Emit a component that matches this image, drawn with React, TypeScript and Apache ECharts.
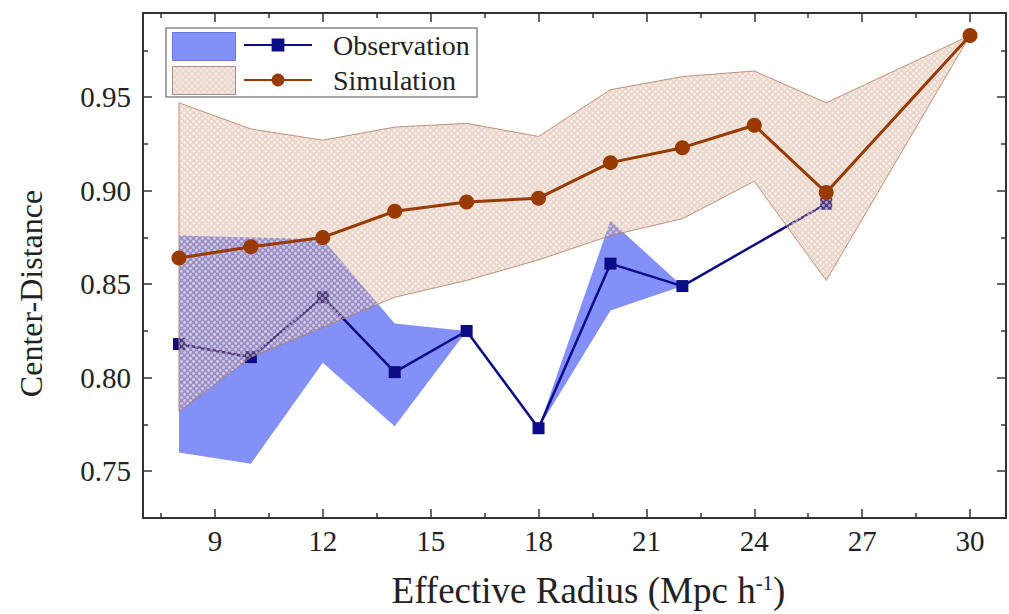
import React, { useEffect, useRef } from "react";
import * as echarts from "echarts";

// ---- data ----
const xObs = [8, 10, 12, 14, 16, 18, 20, 22, 26];
const obsMean = [0.818, 0.811, 0.843, 0.803, 0.825, 0.773, 0.861, 0.849, 0.893];
const obsUpper = [0.876, 0.875, 0.874, 0.829, 0.825, 0.773, 0.884, 0.849, 0.893];
const obsLower = [0.760, 0.754, 0.808, 0.774, 0.825, 0.773, 0.836, 0.849, 0.893];

const xSim = [8, 10, 12, 14, 16, 18, 20, 22, 24, 26, 30];
const simMean = [0.864, 0.870, 0.875, 0.889, 0.894, 0.896, 0.915, 0.923, 0.935, 0.899, 0.983];
const simUpper = [0.947, 0.933, 0.927, 0.934, 0.936, 0.929, 0.954, 0.961, 0.964, 0.947, 0.983];
const simLower = [0.782, 0.811, 0.827, 0.843, 0.852, 0.863, 0.876, 0.885, 0.905, 0.852, 0.983];

const xTickLabels = [9, 12, 15, 18, 21, 24, 27, 30];
const yTickLabels = [0.75, 0.8, 0.85, 0.9, 0.95];

const SERIF = "Liberation Serif";

function makePattern(): HTMLCanvasElement {
  const c = document.createElement("canvas");
  c.width = 6;
  c.height = 6;
  const ctx = c.getContext("2d")!;
  ctx.fillStyle = "rgba(200,140,110,0.36)";
  ctx.fillRect(0, 0, 6, 6);
  ctx.fillStyle = "rgba(255,255,255,0.55)";
  const pts = [
    [1.5, 1.5],
    [4.5, 4.5],
  ];
  for (const [px, py] of pts) {
    ctx.beginPath();
    ctx.arc(px, py, 1.4, 0, Math.PI * 2);
    ctx.fill();
  }
  return c;
}

function bandSeries(name: string, xs: number[], lo: number[], up: number[], style: any, z: number) {
  return {
    name,
    type: "custom",
    z,
    data: xs.map((x, i) => [x, lo[i], up[i]]),
    encode: { x: 0, y: [1, 2] },
    renderItem: (params: any, api: any) => {
      if (params.dataIndexInside !== 0) return null;
      const n = params.dataInsideLength;
      const top: number[][] = [];
      const bot: number[][] = [];
      for (let i = 0; i < n; i++) {
        top.push(api.coord([api.value(0, i), api.value(2, i)]));
        bot.push(api.coord([api.value(0, i), api.value(1, i)]));
      }
      return {
        type: "polygon",
        shape: { points: top.concat(bot.reverse()) },
        style,
      };
    },
  };
}

export default function App() {
  const ref = useRef<HTMLDivElement>(null);
  useEffect(() => {
    if (!ref.current) return;
    const chart = echarts.init(ref.current, null, { renderer: "svg" });
    const pattern = { image: makePattern(), repeat: "repeat" } as any;

    const pair = (xs: number[], ys: number[]) => xs.map((x, i) => [x, ys[i]]);

    const axisLine = { lineStyle: { color: "#333", width: 2 } };
    const xAxisBase = {
      type: "value",
      min: 7,
      max: 31,
      splitNumber: 8,
      splitLine: { show: false },
      axisLine,
      axisTick: { inside: true, length: 9, lineStyle: { color: "#333", width: 1.5 } },
      minorTick: { show: true, splitNumber: 2, length: 5, lineStyle: { color: "#333", width: 1.5 } },
    };
    const yAxisBase = {
      type: "value",
      min: 0.725,
      max: 0.995,
      splitNumber: 5,
      splitLine: { show: false },
      axisLine,
      axisTick: { inside: true, length: 9, lineStyle: { color: "#333", width: 1.5 } },
      minorTick: { show: true, splitNumber: 2, length: 5, lineStyle: { color: "#333", width: 1.5 } },
    };

    const option: any = {
      animation: false,
      backgroundColor: "#fff",
      textStyle: { fontFamily: SERIF },
      grid: { left: 143, right: 2, top: 13, bottom: 93 },
      xAxis: [
        {
          ...xAxisBase,
          position: "bottom",
          name: "Effective Radius (Mpc h{sup|-1})",
          nameLocation: "middle",
          nameGap: 54,
          nameTextStyle: {
            fontFamily: SERIF,
            fontSize: 37,
            color: "#222",
            padding: [0, 0, 0, 28],
            rich: { sup: { fontFamily: SERIF, fontSize: 21, color: "#222", verticalAlign: "top", padding: [0, 0, 14, 0] } },
          },
          axisLabel: {
            fontFamily: SERIF,
            fontSize: 29,
            color: "#222",
            margin: 8,
            formatter: (v: number) => (xTickLabels.includes(Math.round(v)) && Math.abs(v - Math.round(v)) < 1e-6 ? String(Math.round(v)) : ""),
          },
        },
        { ...xAxisBase, position: "top", axisLabel: { show: false } },
      ],
      yAxis: [
        {
          ...yAxisBase,
          position: "left",
          name: "Center-Distance",
          nameLocation: "middle",
          nameGap: 96,
          nameTextStyle: { fontFamily: SERIF, fontSize: 32, color: "#222", padding: [0, 56, 0, 0] },
          axisLabel: {
            fontFamily: SERIF,
            fontSize: 29,
            color: "#222",
            margin: 12,
            formatter: (v: number) => {
              const hit = yTickLabels.find((t) => Math.abs(t - v) < 1e-6);
              return hit !== undefined ? hit.toFixed(2) : "";
            },
          },
        },
        { ...yAxisBase, position: "right", axisLabel: { show: false } },
      ],
      legend: [
        {
          data: [
            { name: "Observation band", icon: "rect", itemStyle: { color: "#8290f8", borderColor: "#6a78dc", borderWidth: 1 } },
            { name: "Simulation band", icon: "rect", itemStyle: { color: pattern, borderColor: "#a88", borderWidth: 1 } },
          ],
          orient: "vertical",
          left: 172,
          top: 32,
          padding: 0,
          itemWidth: 63,
          itemHeight: 28,
          itemGap: 5,
          selectedMode: false,
          formatter: () => "",
          textStyle: { fontSize: 1 },
        },
        {
          data: ["Observation", "Simulation"],
          orient: "vertical",
          left: 243,
          top: 31,
          padding: 0,
          itemWidth: 68,
          itemHeight: 16,
          itemGap: 7,
          selectedMode: false,
          textStyle: { fontFamily: SERIF, fontSize: 28, color: "#222", lineHeight: 28, padding: [0, 0, 0, 16] },
        },
      ],
      graphic: [
        {
          type: "rect",
          z: 1,
          shape: { x: 166, y: 28, width: 311, height: 69 },
          style: { fill: "#fff", stroke: "#888", lineWidth: 1.5 },
        },
      ],
      series: [
        bandSeries("Observation band", xObs, obsLower, obsUpper, { fill: "#8290f8" }, 2),
        {
          name: "Observation",
          type: "line",
          data: pair(xObs, obsMean),
          symbol: "rect",
          symbolSize: 12,
          color: "#0c0c88",
          lineStyle: { color: "#0c0c88", width: 2.5 },
          itemStyle: { color: "#0c0c88" },
          z: 3,
        },
        bandSeries("Simulation band", xSim, simLower, simUpper, { fill: pattern, stroke: "#b07a5a", lineWidth: 0.8 }, 4),
        {
          name: "Simulation",
          type: "line",
          data: pair(xSim, simMean),
          symbol: "circle",
          symbolSize: 15,
          color: "#983a02",
          lineStyle: { color: "#983a02", width: 3 },
          itemStyle: { color: "#983a02" },
          z: 5,
        },
      ],
    };
    chart.setOption(option);
    return () => chart.dispose();
  }, []);
  return (
    <div
      ref={ref}
      style={{ position: "fixed", left: 0, top: 0, width: 1009, height: 614, background: "#fff" }}
    />
  );
}
